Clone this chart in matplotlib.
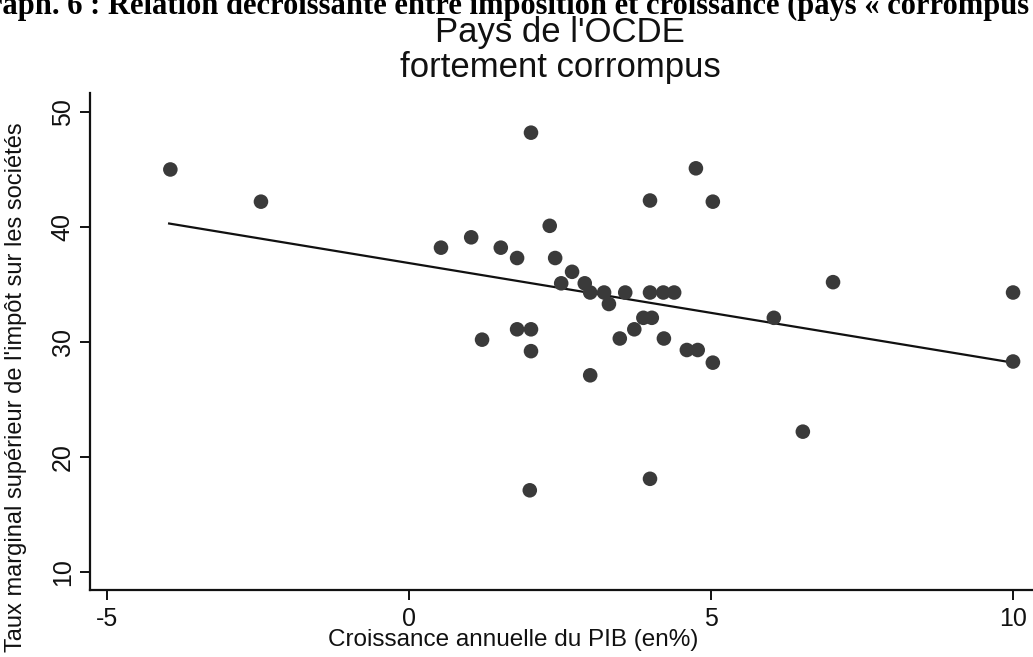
import matplotlib
matplotlib.use('Agg')
import matplotlib.pyplot as plt

# valeurs (croissance du PIB en %, taux marginal en %)
croissance = [-3.95, -2.45, 0.53, 1.03, 1.52, 1.79, 2.02, 2.33, 2.42, 2.70,
              2.52, 2.91, 3.00, 3.23, 3.31, 3.58, 3.99, 4.21, 4.39, 3.88,
              4.02, 3.73, 3.49, 4.22, 4.60, 4.78, 1.21, 1.79, 2.02, 2.02,
              3.00, 4.75, 3.99, 5.03, 5.03, 2.00, 3.99, 7.02, 10.0, 6.04,
              10.0, 6.52]
taux = [45.0, 42.2, 38.2, 39.1, 38.2, 37.3, 48.2, 40.1, 37.3, 36.1,
        35.1, 35.1, 34.3, 34.3, 33.3, 34.3, 34.3, 34.3, 34.3, 32.1,
        32.1, 31.1, 30.3, 30.3, 29.3, 29.3, 30.2, 31.1, 31.1, 29.2,
        27.1, 45.1, 42.3, 42.2, 28.2, 17.1, 18.1, 35.2, 34.3, 32.1,
        28.3, 22.2]

# droite de régression (extrémités lues)
fit_x = [-3.97, 10.0]
fit_y = [40.3, 28.2]

xticks = [-5, 0, 5, 10]
yticks = [10, 20, 30, 40, 50]

titre_haut = "Graph. 6 : Relation décroissante entre imposition et croissance (pays « corrompus »)"
titre = "Pays de l'OCDE\nfortement corrompus"
xlabel = "Croissance annuelle du PIB (en%)"
ylabel = "Taux marginal supérieur de l'impôt sur les sociétés"

police = ['Liberation Sans Narrow', 'Liberation Sans', 'DejaVu Sans']

W, H = 1033, 657
fig = plt.figure(figsize=(W / 100, H / 100), dpi=100)
fig.patch.set_facecolor('white')

ax = fig.add_axes([90 / W, 1 - 590 / H, 943 / W, 497 / H])
ax.scatter(croissance, taux, s=110, color='#3a3a3a', edgecolors='none',
           zorder=3, clip_on=False)
ax.plot(fit_x, fit_y, color='#111111', lw=1.6, zorder=2)

ax.set_xlim(-5.28, 10.33)
ax.set_ylim(8.43, 51.65)
ax.set_xticks(xticks)
ax.set_yticks(yticks)
ax.set_xticklabels([str(t) for t in xticks], family=police, fontsize=18)
ax.set_yticklabels([str(t) for t in yticks], family=police, fontsize=18,
                   rotation=90, va='center')

for s in ['top', 'right']:
    ax.spines[s].set_visible(False)
for s in ['left', 'bottom']:
    ax.spines[s].set_linewidth(1.6)
    ax.spines[s].set_color('#111111')
ax.tick_params(axis='both', direction='out', length=7, width=1.4,
               color='#111111', labelcolor='#111111')
ax.tick_params(axis='x', pad=5)
ax.tick_params(axis='y', pad=4)

fig.text(513 / W, 1 - 640 / H, xlabel, family=police, fontsize=17.5,
         ha='center', va='center', color='#111111')
fig.text(16 / W, 1 - 652 / H, ylabel, family=police, fontsize=17,
         rotation=90, ha='center', va='bottom', color='#111111')
fig.text(560 / W, 1 - 50 / H, titre, family=police, fontsize=25,
         ha='center', va='center', linespacing=1.1, color='#111111')

# titre du document, coupé en haut de l'image scannée
fig.text(-35 / W, 1 - 14 / H, titre_haut, family=['Liberation Serif', 'DejaVu Serif'],
         fontsize=22, fontweight='bold', ha='left', va='baseline', color='black')

fig.savefig('out.png', dpi=100, facecolor='white')
